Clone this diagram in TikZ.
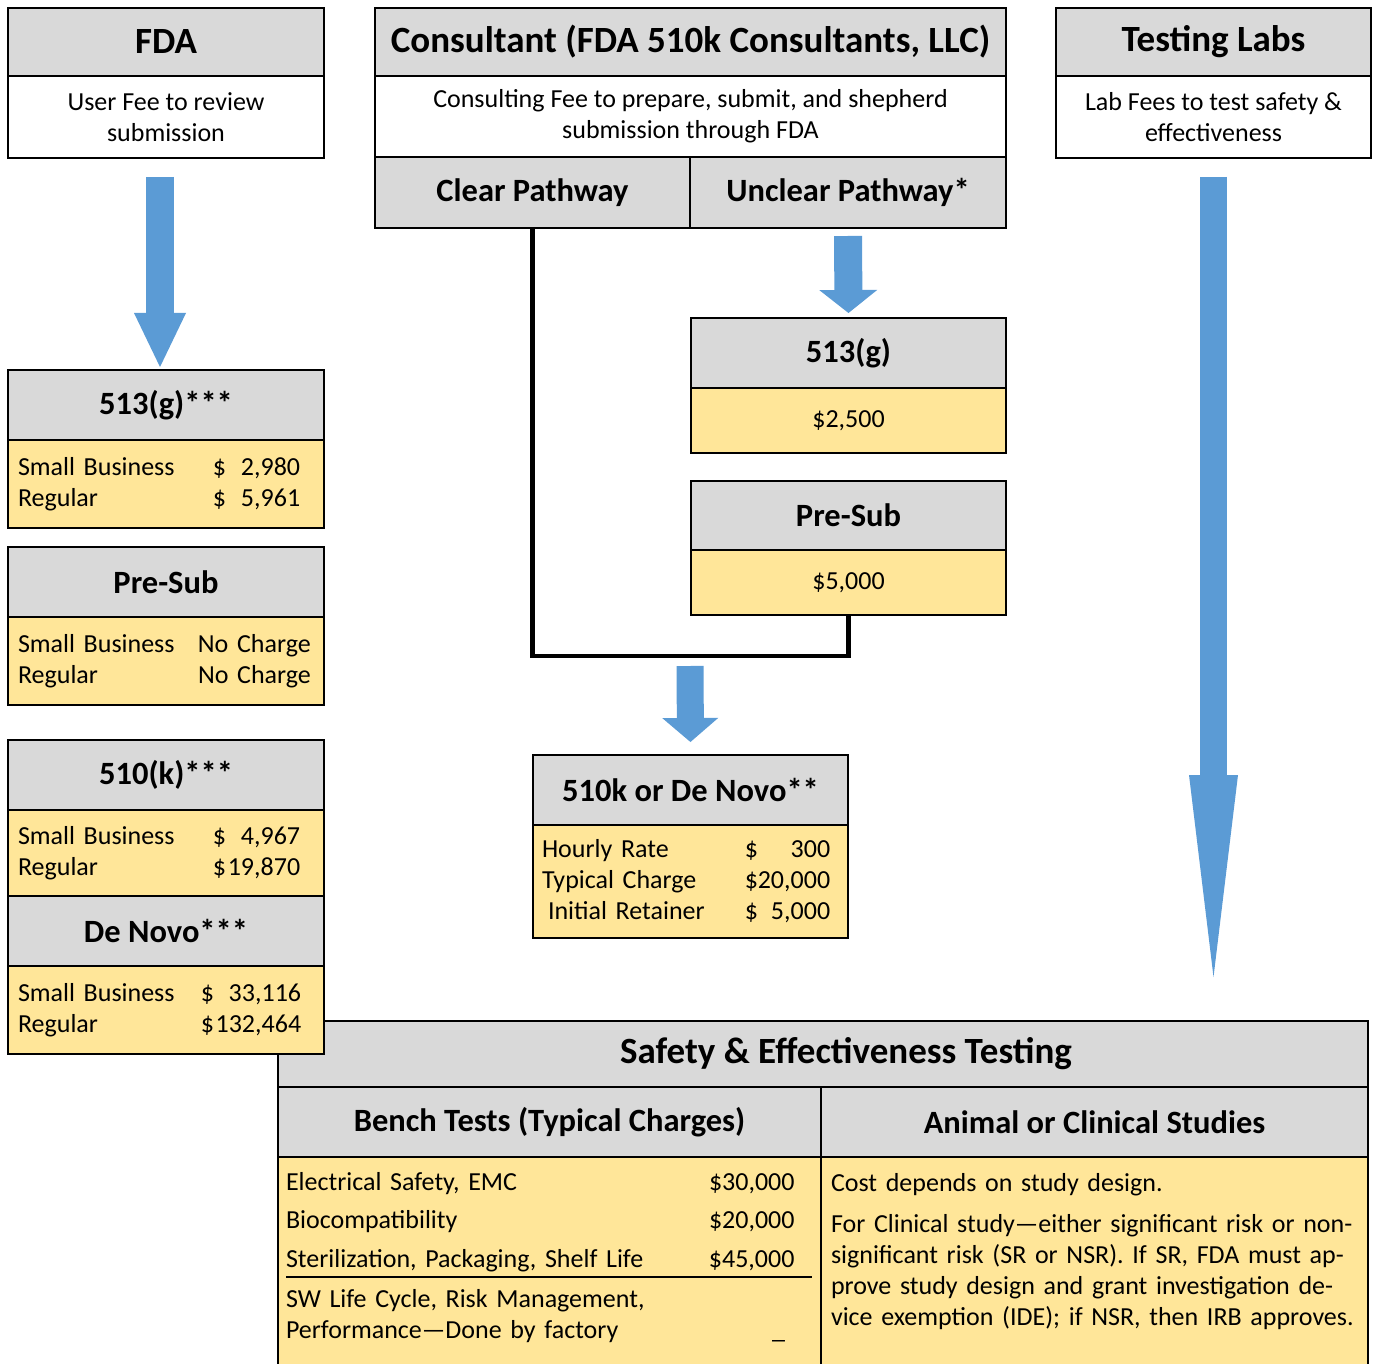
\documentclass[tikz,border=0pt]{standalone}
\usepackage{fontspec}
\setmainfont{Carlito}
\usetikzlibrary{positioning,arrows.meta}

\definecolor{hdrgray}{HTML}{D9D9D9}
\definecolor{feeyellow}{HTML}{FFE699}
\definecolor{flowblue}{HTML}{5B9BD5}

\newcommand{\bodyfont}{\fontsize{26}{31}\selectfont}

\tikzset{
    cell/.style={draw, line width=2.5pt, outer sep=0pt, inner sep=0pt},
    head/.style={cell, fill=hdrgray, font=\bfseries\fontsize{37}{42}\selectfont},
    subhead/.style={cell, fill=hdrgray, font=\bfseries\fontsize{32.5}{38}\selectfont},
    note/.style={cell, fill=white, align=center, font=\bodyfont},
    fee/.style={cell, fill=feeyellow, align=left, font=\bodyfont, inner xsep=10pt},
    memo/.style={inner sep=0pt, outer sep=0pt, anchor=north west, align=left, font=\bodyfont},
    flow/.style={draw=flowblue, line width=28pt},
    route/.style={draw, line width=4.5pt},
}

\begin{document}
\begin{tikzpicture}[x=1pt, y=-1pt]
    \useasboundingbox (0,0) rectangle (1374,1364);
    %
    % top row: who gets paid
    \node[head, minimum width=316pt, minimum height=68pt] (fda) at (166,42) {FDA};
    \node[note, minimum width=316pt, minimum height=82pt, below=0pt of fda] (fdaNote) {User Fee to review\\submission};
    \node[head, minimum width=631pt, minimum height=68pt] (cons) at (690.5,42) {Consultant (FDA 510k Consultants, LLC)};
    \node[note, minimum width=631pt, minimum height=81pt, below=0pt of cons] (consNote) {Consulting Fee to prepare, submit, and shepherd\\submission through FDA};
    \node[subhead, minimum width=315pt, minimum height=71pt, anchor=north west] (clear) at (consNote.south west) {Clear Pathway};
    \node[subhead, minimum width=316pt, minimum height=71pt, anchor=north east] (unclear) at (consNote.south east) {Unclear Pathway*};
    \node[head, minimum width=315pt, minimum height=68pt] (labs) at (1213.5,42) {Testing Labs};
    \node[note, minimum width=315pt, minimum height=82pt, below=0pt of labs] (labsNote) {Lab Fees to test safety \&\\effectiveness};
    %
    % testing (drawn first, the De Novo box sits over its corner)
    \node[head, minimum width=1090pt, minimum height=66pt] (safety) at (823,1054) {\hspace*{46pt}Safety \& Effectiveness Testing};
    \node[subhead, minimum width=543pt, minimum height=70pt, anchor=north west] (bench) at (safety.south west) {Bench Tests (Typical Charges)};
    \node[subhead, minimum width=547pt, minimum height=70pt, anchor=north east] (animal) at (safety.south east) {Animal or Clinical Studies};
    \node[cell, fill=feeyellow, minimum width=543pt, minimum height=220pt, anchor=north west] (benchFee) at (bench.south west) {};
    \node[cell, fill=feeyellow, minimum width=547pt, minimum height=220pt, anchor=north east] (animalFee) at (animal.south east) {};
    \node[memo, text width=530pt] (benchList) at (286,1172) {%
        \makebox[423pt][l]{Electrical Safety, EMC}\$30,000\\[7.5pt]
        \makebox[423pt][l]{Biocompatibility}\$20,000\\[7.5pt]
        \makebox[423pt][l]{Sterilization, Packaging, Shelf Life}\$45,000};
    \draw[line width=1.5pt] (286,1277) -- (812,1277);
    \node[memo, text width=530pt] (benchSw) at (286,1289) {%
        SW Life Cycle, Risk Management,\\
        \makebox[486pt][l]{Performance—Done by factory}\_};
    \node[memo, text width=540pt] (animalText) at (831,1173) {%
        Cost depends on study design.\\[10pt]
        For Clinical study—either significant risk or non-\\
        significant risk (SR or NSR). If SR, FDA must ap-\\
        prove study design and grant investigation de-\\
        vice exemption (IDE); if NSR, then IRB approves.};
    %
    % FDA fees
    \node[subhead, minimum width=316pt, minimum height=70pt] (g513) at (166,405) {513(g)***};
    \node[fee, text width=296pt, minimum height=88pt, below=0pt of g513] (g513Fee) {%
        \makebox[195pt][l]{Small Business}\$\makebox[74pt][r]{2,980}\\
        \makebox[195pt][l]{Regular}\$\makebox[74pt][r]{5,961}};
    \node[subhead, minimum width=316pt, minimum height=70pt] (preSub) at (166,582) {Pre-Sub};
    \node[fee, text width=296pt, minimum height=88pt, below=0pt of preSub] (preSubFee) {%
        \makebox[180pt][l]{Small Business}No Charge\\
        \makebox[180pt][l]{Regular}No Charge};
    \node[subhead, minimum width=316pt, minimum height=70pt] (k510) at (166,775) {510(k)***};
    \node[fee, text width=296pt, minimum height=86pt, below=0pt of k510] (k510Fee) {%
        \makebox[195pt][l]{Small Business}\$\makebox[74pt][r]{4,967}\\
        \makebox[195pt][l]{Regular}\$\makebox[74pt][r]{19,870}};
    \node[subhead, minimum width=316pt, minimum height=70pt, below=0pt of k510Fee] (novo) {De Novo***};
    \node[fee, text width=296pt, minimum height=88pt, below=0pt of novo] (novoFee) {%
        \makebox[183pt][l]{Small Business}\$\makebox[87pt][r]{33,116}\\
        \makebox[183pt][l]{Regular}\$\makebox[87pt][r]{132,464}};
    %
    % consultant fees
    \node[subhead, minimum width=315pt, minimum height=70pt] (cg513) at (848.5,353) {513(g)};
    \node[fee, align=center, minimum width=315pt, minimum height=65pt, below=0pt of cg513] (cg513Fee) {\$2,500};
    \node[subhead, minimum width=315pt, minimum height=69pt] (cPreSub) at (848.5,515.5) {Pre-Sub};
    \node[fee, align=center, minimum width=315pt, minimum height=65pt, below=0pt of cPreSub] (cPreSubFee) {\$5,000};
    \node[subhead, minimum width=315pt, minimum height=70pt] (subm) at (690.5,790) {510k or De Novo**};
    \node[fee, inner xsep=9pt, text width=297pt, minimum height=113pt, below=0pt of subm] (submFee) {%
        \makebox[203pt][l]{Hourly Rate}\$\makebox[72pt][r]{300}\\
        \makebox[203pt][l]{Typical Charge}\$\makebox[72pt][r]{20,000}\\
        \makebox[203pt][l]{\hspace{6pt}Initial Retainer}\$\makebox[72pt][r]{5,000}};
    %
    % flows
    \coordinate (merge) at (690,656);
    \draw[route] (clear.south) |- (merge) -| (cPreSubFee.south);
    \draw[flow, -{Triangle[width=52pt,length=54pt,line width=0pt]}, shorten <=19pt, shorten >=3pt] ([xshift=-6pt]fdaNote.south) -- ([xshift=-6pt]g513.north);
    \draw[flow, -{Triangle[width=58pt,length=23pt,line width=0pt]}, shorten <=8pt, shorten >=5pt] (unclear.south) -- (cg513.north);
    \draw[flow, line width=27pt, -{Triangle[width=56pt,length=24pt,line width=0pt]}, shorten <=10pt, shorten >=13pt] (merge) -- (subm.north);
    \draw[flow, line width=27pt, -{Triangle[width=49pt,length=202pt,line width=0pt]}, shorten <=19pt, shorten >=44pt] (labsNote.south) -- (labsNote.south |- safety.north);
\end{tikzpicture}
\end{document}
